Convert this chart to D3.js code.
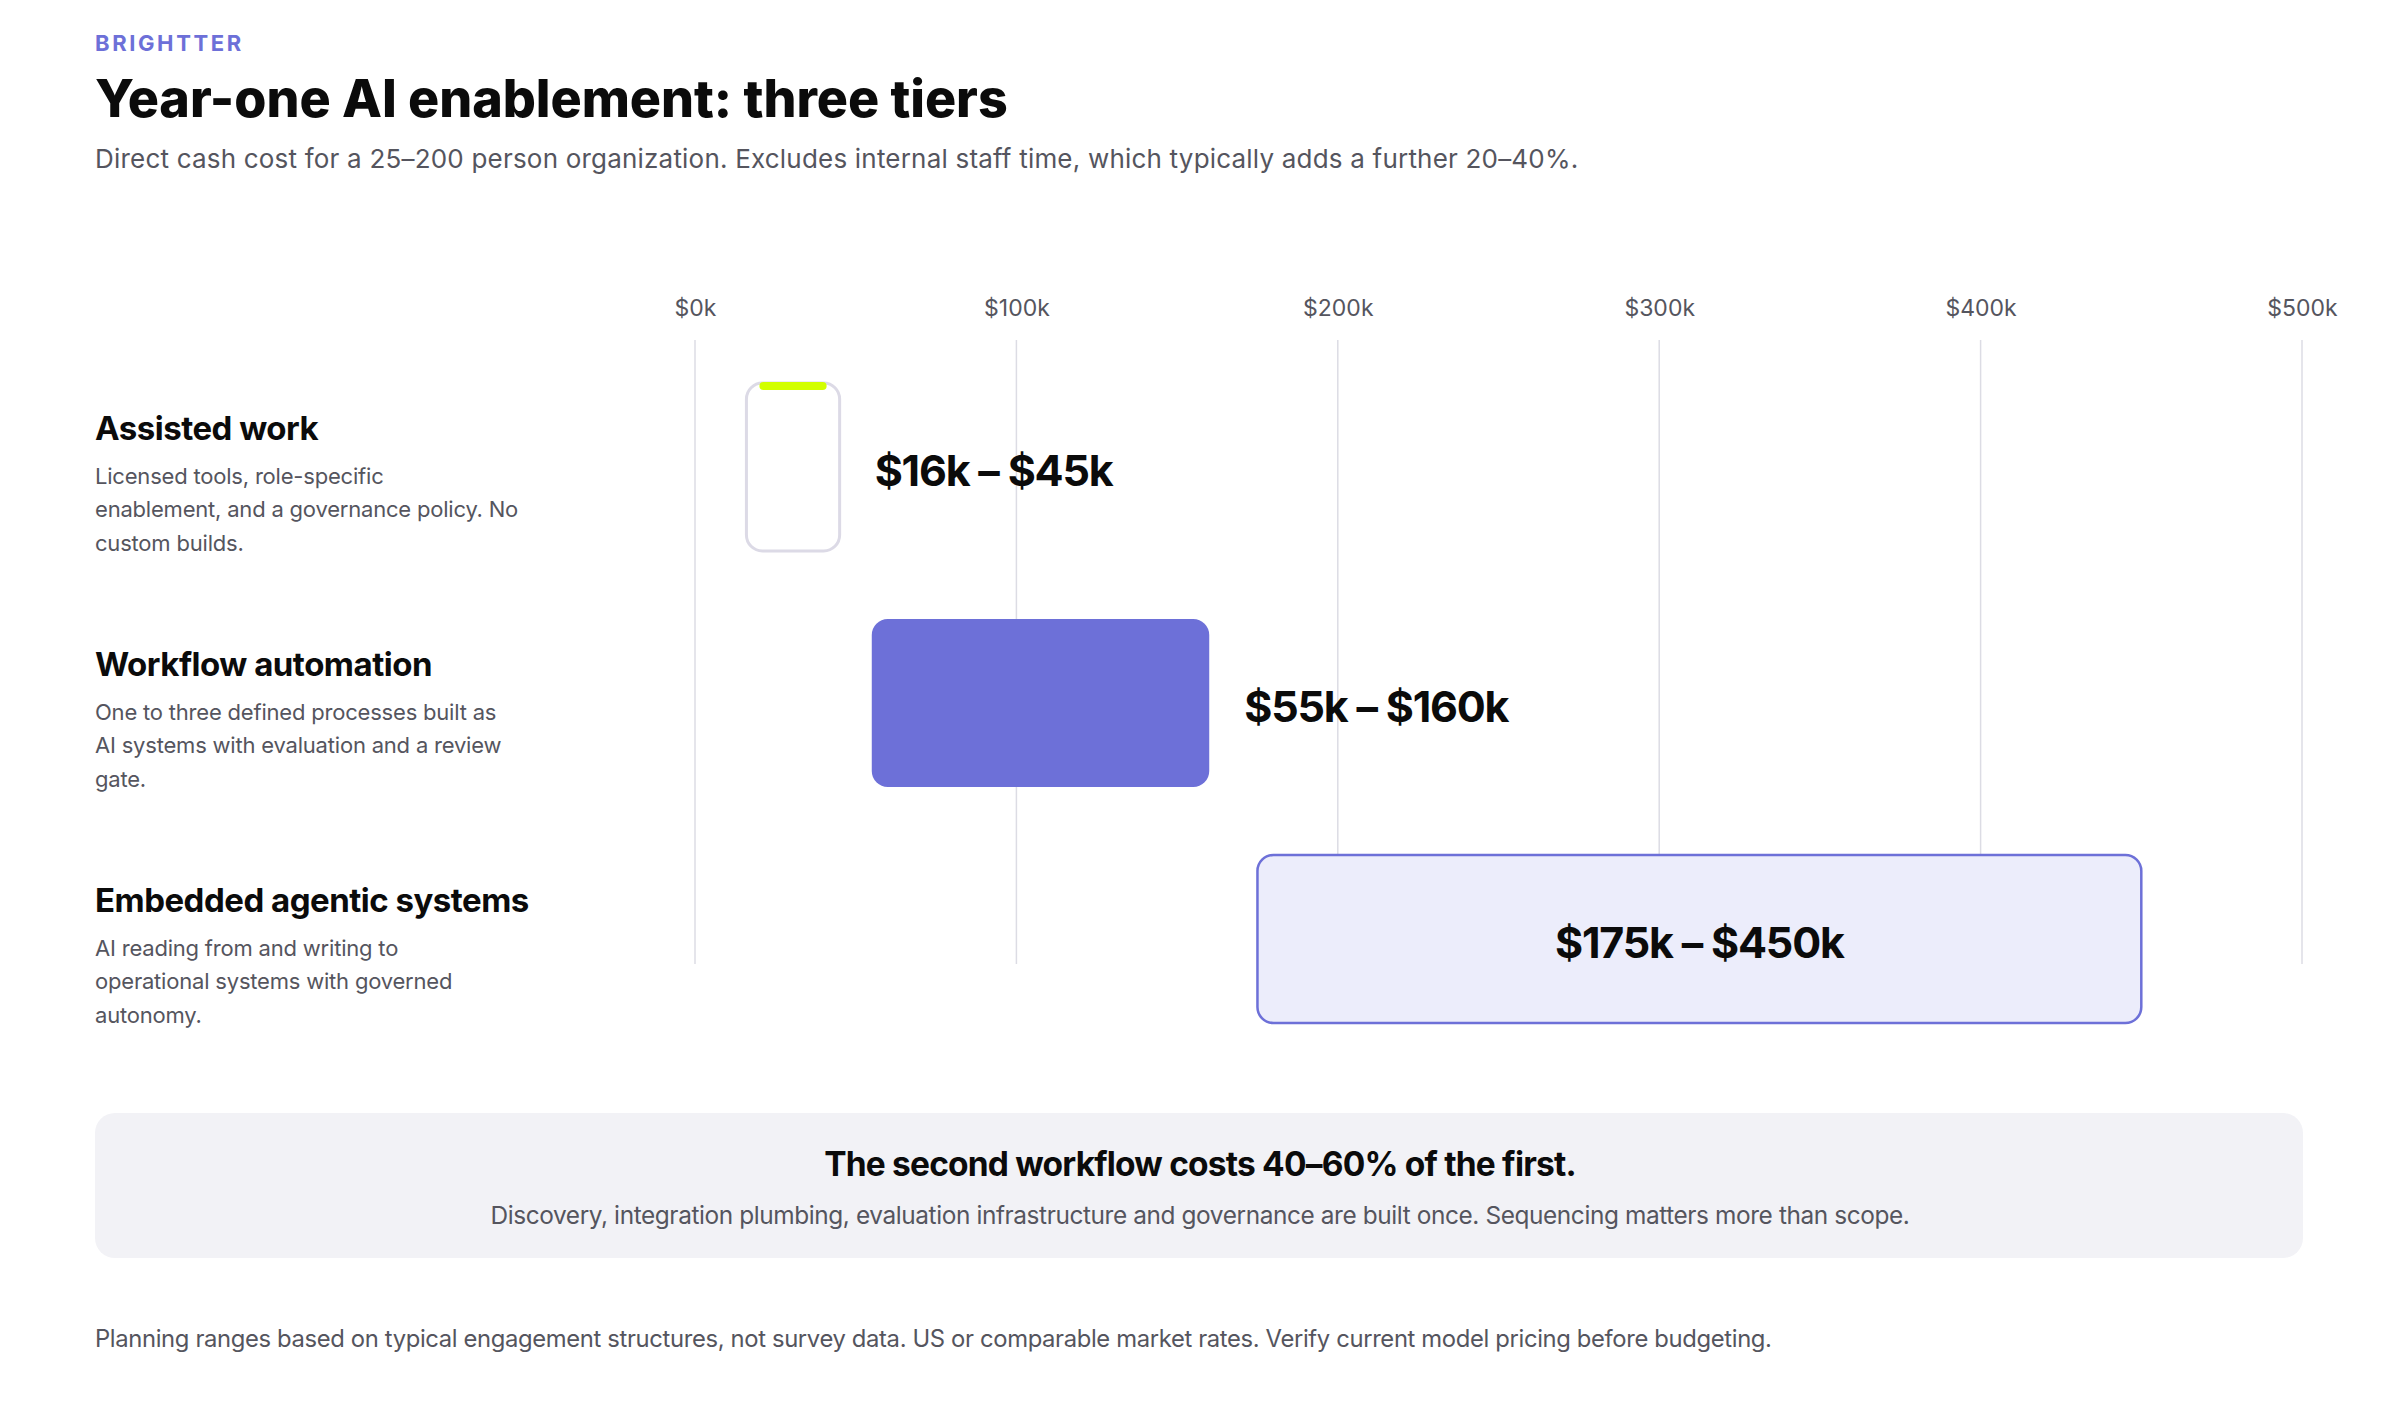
<!DOCTYPE html>
<html>
<head>
<meta charset="utf-8">
<script src="https://cdn.jsdelivr.net/npm/d3@7"></script>
<style>
  html, body { margin: 0; padding: 0; background: #ffffff; }
  svg { display: block; }
  text { font-family: Inter, "Open Sans", sans-serif; }
</style>
</head>
<body>
<svg id="chart" width="2400" height="1424"></svg>
<script>
// ---------- data ----------
const brand = "BRIGHTTER";
const title = "Year-one AI enablement: three tiers";
const subtitle = "Direct cash cost for a 25–200 person organization. Excludes internal staff time, which typically adds a further 20–40%.";

const tiers = ["Assisted work", "Workflow automation", "Embedded agentic systems"];
const tierDescriptions = [
  ["Licensed tools, role-specific", "enablement, and a governance policy. No", "custom builds."],
  ["One to three defined processes built as", "AI systems with evaluation and a review", "gate."],
  ["AI reading from and writing to", "operational systems with governed", "autonomy."]
];
const lowValues = [16, 55, 175];   // $k
const highValues = [45, 160, 450]; // $k
const rangeLabels = ["$16k – $45k", "$55k – $160k", "$175k – $450k"];
const tierStyles = ["outline", "solid", "light"];

const tickValues = [0, 100, 200, 300, 400, 500];
const tickLabels = ["$0k", "$100k", "$200k", "$300k", "$400k", "$500k"];

const calloutHeadline = "The second workflow costs 40–60% of the first.";
const calloutBody = "Discovery, integration plumbing, evaluation infrastructure and governance are built once. Sequencing matters more than scope.";
const footnote = "Planning ranges based on typical engagement structures, not survey data. US or comparable market rates. Verify current model pricing before budgeting.";

// ---------- layout ----------
const svg = d3.select("#chart");
const W = 2400, left = 95;
const indigo = "#6d70d8";
const ink = "#0b0b0b";
const grey = "#55555e";

const x = d3.scaleLinear().domain([0, 500]).range([695, 2302]);
const y = d3.scalePoint().domain(tiers).range([467, 939]);
const barH = 168;

// header
svg.append("text").attr("x", left).attr("y", 51)
  .attr("font-size", 22).attr("font-weight", 700).attr("letter-spacing", 2.6)
  .attr("fill", "#6d70d8").text(brand);
svg.append("text").attr("x", left).attr("y", 117)
  .attr("font-size", 52).attr("font-weight", 800).attr("letter-spacing", -0.05)
  .attr("fill", ink).text(title);
svg.append("text").attr("x", left).attr("y", 168)
  .attr("font-size", 26).attr("fill", grey).attr("letter-spacing", 0.2).text(subtitle);

// axis
const axisG = svg.append("g").attr("transform", "translate(0,308)");
const axis = d3.axisTop(x).tickValues(tickValues)
  .tickFormat((d, i) => tickLabels[i]).tickSize(0).tickPadding(0);
axisG.call(axis);
axisG.select(".domain").remove();
axisG.selectAll("text").attr("font-family", "Inter, sans-serif")
  .attr("font-size", 23).attr("fill", grey).attr("dy", "0.35em").attr("y", 0);

// gridlines
svg.append("g").selectAll("line").data(tickValues).join("line")
  .attr("x1", d => x(d)).attr("x2", d => x(d))
  .attr("y1", 340).attr("y2", 964)
  .attr("stroke", "#dcdce4").attr("stroke-width", 1.5);

// row labels
const rows = svg.append("g").selectAll("g").data(tiers).join("g");
rows.append("text").attr("x", left).attr("y", d => y(d) - 39)
  .attr("dy", "0.35em").attr("font-size", 33).attr("font-weight", 700)
  .attr("letter-spacing", -0.5).attr("fill", ink).text(d => d);
rows.each(function(d, i) {
  const g = d3.select(this);
  g.selectAll("text.desc").data(tierDescriptions[i]).join("text")
    .attr("class", "desc")
    .attr("x", left).attr("y", (t, j) => y(d) + 9 + j * 33.5)
    .attr("dy", "0.35em").attr("font-size", 22).attr("letter-spacing", -0.2)
    .attr("fill", grey).text(t => t);
});

// bars
const bars = svg.append("g").selectAll("g").data(tiers).join("g");
bars.append("rect")
  .attr("x", (d, i) => x(lowValues[i]))
  .attr("y", d => y(d) - barH / 2)
  .attr("width", (d, i) => x(highValues[i]) - x(lowValues[i]))
  .attr("height", barH)
  .attr("rx", 16)
  .attr("fill", (d, i) => tierStyles[i] === "solid" ? indigo : tierStyles[i] === "light" ? "#ecedfb" : "#ffffff")
  .attr("stroke", (d, i) => tierStyles[i] === "solid" ? "none" : tierStyles[i] === "light" ? indigo : "#dcdae6")
  .attr("stroke-width", (d, i) => tierStyles[i] === "light" ? 2.5 : 3);

// lime accent on outline bar
bars.filter((d, i) => tierStyles[i] === "outline").append("rect")
  .attr("x", d => x(lowValues[tiers.indexOf(d)]) + 13)
  .attr("y", d => y(d) - barH / 2 - 1)
  .attr("width", d => x(highValues[tiers.indexOf(d)]) - x(lowValues[tiers.indexOf(d)]) - 26)
  .attr("height", 8).attr("rx", 4)
  .attr("fill", "#d2ff00");

// range labels
bars.append("text")
  .attr("x", (d, i) => tierStyles[i] === "light" ? (x(lowValues[i]) + x(highValues[i])) / 2 : x(highValues[i]) + 35)
  .attr("y", d => y(d) + 4)
  .attr("dy", "0.35em")
  .attr("text-anchor", (d, i) => tierStyles[i] === "light" ? "middle" : "start")
  .attr("font-size", 43).attr("font-weight", 700).attr("letter-spacing", -1.2)
  .attr("fill", ink).text((d, i) => rangeLabels[i]);

// callout
svg.append("rect").attr("x", left).attr("y", 1113).attr("width", 2303 - left).attr("height", 145)
  .attr("rx", 20).attr("fill", "#f2f2f6");
svg.append("text").attr("x", W / 2).attr("y", 1164).attr("dy", "0.35em").attr("text-anchor", "middle")
  .attr("font-size", 33.5).attr("font-weight", 700).attr("letter-spacing", -0.8).attr("fill", ink).text(calloutHeadline);
svg.append("text").attr("x", W / 2).attr("y", 1215).attr("dy", "0.35em").attr("text-anchor", "middle")
  .attr("font-size", 24.4).attr("letter-spacing", -0.4).attr("fill", grey).text(calloutBody);

// footnote
svg.append("text").attr("x", left).attr("y", 1339).attr("dy", "0.35em")
  .attr("font-size", 23.8).attr("letter-spacing", -0.35).attr("fill", grey).text(footnote);
</script>
</body>
</html>
